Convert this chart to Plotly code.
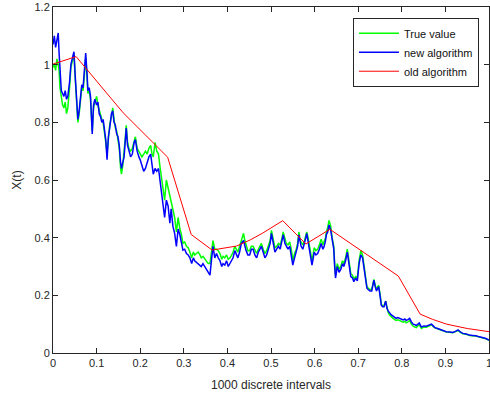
import plotly.graph_objects as go

t = [0.000,0.003,0.006,0.009,0.012,0.014,0.016,0.019,0.022,0.025,0.028,0.031,0.034,0.038,0.041,0.044,0.048,0.051,0.054,0.057,
     0.060,0.063,0.066,0.069,0.072,0.075,0.078,0.080,0.083,0.086,0.090,0.093,0.096,0.100,0.103,0.106,0.109,0.112,0.115,0.118,
     0.121,0.124,0.127,0.130,0.134,0.137,0.140,0.143,0.146,0.149,0.152,0.155,0.157,0.160,0.163,0.166,0.168,0.171,0.174,0.178,
     0.182,0.186,0.189,0.193,0.197,0.200,0.204,0.208,0.212,0.216,0.220,0.224,0.227,0.230,0.234,0.238,0.242,0.245,0.249,0.252,
     0.256,0.260,0.264,0.268,0.271,0.275,0.279,0.283,0.287,0.291,0.294,0.298,0.302,0.306,0.310,0.314,0.318,0.322,0.325,0.329,
     0.333,0.337,0.340,0.344,0.348,0.352,0.356,0.360,0.364,0.367,0.371,0.375,0.379,0.383,0.387,0.390,0.394,0.398,0.402,0.406,
     0.410,0.413,0.417,0.421,0.424,0.428,0.432,0.437,0.440,0.443,0.447,0.451,0.455,0.459,0.463,0.467,0.471,0.474,0.478,0.482,
     0.486,0.490,0.494,0.498,0.501,0.505,0.509,0.513,0.517,0.521,0.524,0.528,0.532,0.535,0.539,0.543,0.547,0.550,0.554,0.558,
     0.561,0.564,0.567,0.569,0.573,0.577,0.580,0.582,0.585,0.588,0.591,0.594,0.597,0.599,0.603,0.607,0.611,0.615,0.619,0.622,
     0.625,0.627,0.630,0.633,0.637,0.640,0.644,0.646,0.648,0.652,0.656,0.660,0.664,0.667,0.671,0.675,0.679,0.683,0.687,0.690,
     0.694,0.698,0.702,0.706,0.710,0.714,0.716,0.720,0.723,0.727,0.731,0.734,0.736,0.739,0.742,0.745,0.747,0.750,0.753,0.756,
     0.759,0.763,0.766,0.769,0.772,0.776,0.780,0.784,0.787,0.791,0.795,0.799,0.803,0.807,0.810,0.814,0.818,0.822,0.826,0.830,
     0.833,0.837,0.840,0.845,0.850,0.856,0.862,0.868,0.872,0.876,0.882,0.887,0.893,0.902,0.910,0.917,0.923,0.929,0.935,0.940,
     0.948,0.955,0.962,0.970,0.978,0.986,0.993,1.000]

new_alg = [1.07,1.10,1.06,1.09,1.11,1.04,0.96,0.91,0.90,0.89,0.91,0.88,0.89,0.94,1.00,1.02,1.045,0.96,0.86,0.81,
           0.84,0.89,0.93,0.92,0.98,1.04,0.97,0.91,0.92,0.89,0.76,0.86,0.88,0.86,0.87,0.83,0.82,0.80,0.81,0.78,
           0.74,0.67,0.75,0.78,0.83,0.84,0.80,0.79,0.76,0.75,0.72,0.66,0.64,0.66,0.68,0.74,0.78,0.72,0.70,0.68,
           0.69,0.73,0.74,0.70,0.68,0.67,0.65,0.63,0.64,0.66,0.68,0.69,0.65,0.62,0.64,0.63,0.64,0.60,0.555,0.52,
           0.47,0.53,0.51,0.45,0.50,0.44,0.415,0.37,0.43,0.41,0.38,0.357,0.36,0.345,0.34,0.33,0.31,0.33,0.32,0.315,
           0.31,0.305,0.30,0.31,0.30,0.29,0.28,0.27,0.33,0.37,0.33,0.345,0.33,0.32,0.30,0.31,0.305,0.32,0.30,0.31,
           0.32,0.33,0.355,0.34,0.33,0.35,0.38,0.39,0.37,0.355,0.34,0.34,0.36,0.36,0.34,0.33,0.35,0.36,0.37,0.35,
           0.33,0.34,0.36,0.38,0.415,0.38,0.35,0.36,0.37,0.36,0.38,0.41,0.38,0.37,0.36,0.37,0.34,0.305,0.33,0.35,
           0.37,0.41,0.38,0.37,0.36,0.38,0.40,0.415,0.39,0.36,0.33,0.305,0.33,0.35,0.34,0.345,0.36,0.38,0.36,0.37,
           0.39,0.41,0.42,0.444,0.425,0.39,0.36,0.30,0.26,0.30,0.28,0.29,0.31,0.30,0.32,0.35,0.31,0.265,0.26,0.247,
           0.26,0.25,0.31,0.34,0.33,0.29,0.277,0.225,0.22,0.215,0.215,0.235,0.253,0.23,0.215,0.225,0.23,0.20,0.166,0.16,
           0.16,0.18,0.155,0.145,0.139,0.132,0.128,0.124,0.12,0.123,0.12,0.117,0.115,0.118,0.113,0.116,0.12,0.108,0.10,0.098,
           0.095,0.10,0.104,0.09,0.094,0.093,0.096,0.10,0.094,0.088,0.085,0.082,0.079,0.074,0.073,0.071,0.075,0.08,0.072,0.068,
           0.066,0.062,0.061,0.06,0.056,0.053,0.05,0.045]

true_val = [0.99,1.00,0.98,1.02,1.00,0.98,0.92,0.88,0.86,0.85,0.87,0.83,0.85,0.92,0.99,1.01,1.04,0.95,0.85,0.80,
            0.83,0.88,0.92,0.91,0.96,1.02,0.96,0.90,0.91,0.88,0.77,0.85,0.87,0.89,0.86,0.84,0.83,0.81,0.80,0.77,
            0.73,0.69,0.74,0.79,0.82,0.85,0.81,0.78,0.77,0.74,0.71,0.64,0.62,0.65,0.69,0.75,0.79,0.73,0.71,0.70,
            0.71,0.74,0.75,0.71,0.70,0.69,0.68,0.69,0.70,0.69,0.71,0.72,0.69,0.68,0.73,0.70,0.69,0.65,0.60,0.56,
            0.53,0.60,0.57,0.54,0.53,0.49,0.47,0.42,0.47,0.43,0.415,0.38,0.385,0.37,0.365,0.35,0.33,0.35,0.34,0.345,
            0.35,0.34,0.33,0.335,0.325,0.32,0.31,0.31,0.35,0.39,0.36,0.36,0.355,0.345,0.325,0.335,0.33,0.34,0.325,0.33,
            0.34,0.35,0.37,0.36,0.35,0.37,0.39,0.415,0.39,0.37,0.355,0.355,0.37,0.37,0.355,0.345,0.36,0.37,0.38,0.36,
            0.345,0.355,0.37,0.39,0.425,0.39,0.365,0.37,0.38,0.375,0.39,0.42,0.395,0.38,0.375,0.385,0.355,0.32,0.345,0.36,
            0.38,0.42,0.39,0.385,0.375,0.39,0.41,0.42,0.40,0.37,0.345,0.32,0.345,0.365,0.355,0.36,0.375,0.395,0.375,0.385,
            0.40,0.42,0.435,0.46,0.44,0.40,0.37,0.31,0.27,0.31,0.29,0.30,0.32,0.31,0.33,0.36,0.32,0.275,0.27,0.255,
            0.265,0.26,0.32,0.355,0.34,0.30,0.285,0.23,0.225,0.22,0.22,0.24,0.255,0.235,0.22,0.23,0.235,0.205,0.17,0.163,
            0.162,0.18,0.152,0.14,0.132,0.125,0.12,0.116,0.113,0.115,0.112,0.108,0.107,0.11,0.105,0.108,0.112,0.10,0.093,0.09,
            0.088,0.094,0.098,0.085,0.09,0.089,0.093,0.098,0.092,0.087,0.084,0.081,0.078,0.073,0.072,0.07,0.074,0.078,0.071,0.067,
            0.065,0.061,0.06,0.059,0.055,0.052,0.049,0.044]

old_t = [0, 0.053, 0.161, 0.263, 0.317, 0.365, 0.421, 0.452, 0.48, 0.505, 0.527, 0.58, 0.635, 0.792, 0.842, 0.87, 0.903, 0.95, 1.0]
old_alg = [1.002, 1.028, 0.833, 0.679, 0.411, 0.357, 0.371, 0.392, 0.415, 0.437, 0.459, 0.378, 0.429, 0.267, 0.135, 0.117, 0.10, 0.085, 0.074]

x_ticks = [0, 0.1, 0.2, 0.3, 0.4, 0.5, 0.6, 0.7, 0.8, 0.9, 1]
x_labels = ["0", "0.1", "0.2", "0.3", "0.4", "0.5", "0.6", "0.7", "0.8", "0.9", "1"]
y_ticks = [0, 0.2, 0.4, 0.6, 0.8, 1, 1.2]
y_labels = ["0", "0.2", "0.4", "0.6", "0.8", "1", "1.2"]

axc = "#262626"
fig = go.Figure()
fig.add_trace(go.Scatter(x=t, y=true_val, mode="lines", name="True value",
                         line=dict(color="#00ff00", width=1.5)))
fig.add_trace(go.Scatter(x=t, y=new_alg, mode="lines", name="new algorithm",
                         line=dict(color="#0000ff", width=1.5)))
fig.add_trace(go.Scatter(x=old_t, y=old_alg, mode="lines", name="old algorithm",
                         line=dict(color="#ff0000", width=1)))

fig.update_layout(
    width=490, height=400,
    margin=dict(l=53, r=1, t=7, b=47, autoexpand=False),
    paper_bgcolor="white", plot_bgcolor="white",
    font=dict(family="Liberation Sans, Arial, sans-serif", size=11, color=axc),
    showlegend=True,
    legend=dict(x=0.977, y=0.969, xanchor="right", yanchor="top",
                bgcolor="white", bordercolor=axc, borderwidth=1,
                font=dict(size=11, color="#111111"), itemwidth=40,
                tracegroupgap=0),
    xaxis=dict(range=[0, 1], tickvals=x_ticks, ticktext=x_labels, automargin=False,
               ticklabeloverflow="allow",
               showgrid=False, zeroline=False, showline=True, linecolor=axc, linewidth=1,
               mirror="ticks", ticks="inside", ticklen=5, tickcolor=axc,
               title=dict(text="1000 discrete intervals", font=dict(size=12), standoff=12)),
    yaxis=dict(range=[0, 1.2], tickvals=y_ticks, ticktext=y_labels, automargin=False,
               ticklabeloverflow="allow",
               showgrid=False, zeroline=False, showline=True, linecolor=axc, linewidth=1,
               mirror="ticks", ticks="inside", ticklen=5, tickcolor=axc,
               title=dict(text="X(t)", font=dict(size=12), standoff=10)),
)

fig.write_html("out.html", config={"displayModeBar": False},
               post_script="document.body.style.margin='0';document.body.style.overflow='hidden';")
